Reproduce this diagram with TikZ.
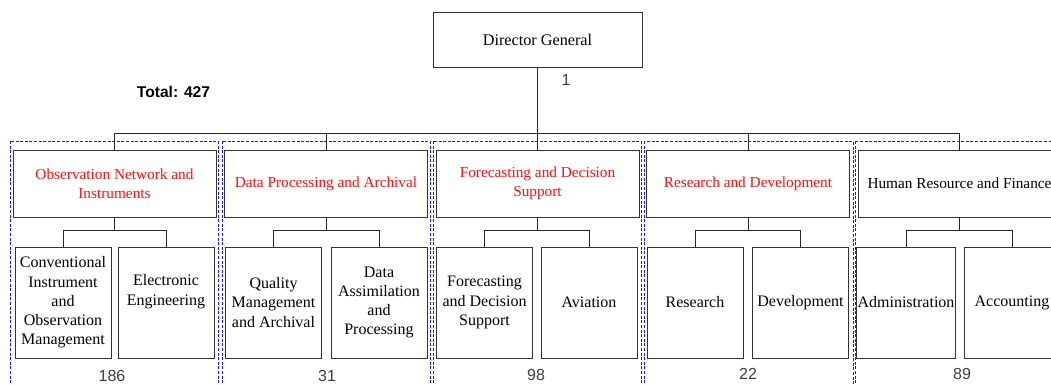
\documentclass[tikz,border=0pt]{standalone}
\usepackage{fontspec}
\usetikzlibrary{calc}
\setmainfont{Liberation Serif}
\newfontfamily\numfont{Liberation Sans}
\definecolor{boxline}{HTML}{333333}
\definecolor{deptred}{HTML}{FF1010}
\definecolor{groupblue}{HTML}{1A1AF0}
\definecolor{countgray}{HTML}{404040}
\tikzset{
  orgbox/.style={draw=boxline, line width=0.9pt, fill=white, align=center, inner sep=1pt,
    font=\fontsize{15.3}{19.3}\selectfont},
  dgbox/.style={orgbox, minimum width=209pt, minimum height=55pt, font=\fontsize{16.2}{19}\selectfont},
  deptbox/.style={orgbox, minimum width=203pt, minimum height=67pt, text=deptred},
  hrbox/.style={orgbox, minimum width=203pt, minimum height=67pt, text=black},
  unitbox/.style={orgbox, minimum width=96pt, minimum height=111pt, font=\fontsize{16}{19.3}\selectfont},
  groupframe/.style={draw=groupblue, line width=0.7pt, dash pattern=on 3pt off 1.6pt},
  link/.style={draw=black!85, line width=0.9pt},
  count/.style={font=\numfont\fontsize{16}{18}\selectfont, text=countgray, inner sep=0pt},
}
\begin{document}
\begin{tikzpicture}[x=1pt,y=-1pt]
\useasboundingbox (0,0) rectangle (1051,385);
\clip (0,0) rectangle (1051,385);
\fill[white] (0,0) rectangle (1051,385);

% division frames
\draw[groupframe] (10,141) rectangle (218,395);
\draw[groupframe] (222,141) rectangle (430,395);
\draw[groupframe] (433,141) rectangle (641,395);
\draw[groupframe] (644,141) rectangle (853,395);
\draw[groupframe] (855,141) rectangle (1065,395);

% top of the hierarchy
\node[dgbox] (dg) at (537.5,39.5) {Director General};
\node[count] (dgcount) at (566,80) {1};
\node[font=\numfont\bfseries\fontsize{15.6}{18}\selectfont, inner sep=0pt] (total) at (173.5,92) {Total: 427};

% divisions
\node[deptbox] (d1) at (114.5,183.5) {Observation Network and\\Instruments};
\node[deptbox] (d2) at (326,183.5) {Data Processing and Archival};
\node[deptbox] (d3) at (537.5,183.5) {Forecasting and Decision\\Support};
\node[deptbox] (d4) at (748,183.5) {Research and Development};
\node[hrbox]   (d5) at (959.5,183.5) {Human Resource and Finance};

% units
\node[unitbox] (u1a) at (63,302.5) {Conventional\\Instrument\\and\\Observation\\Management};
\node[unitbox] (u1b) at (166,302.5) {Electronic\\Engineering\\\strut};
\node[unitbox] (u2a) at (273.5,302.5) {Quality\\Management\\and Archival};
\node[unitbox] (u2b) at (379,302.5) {Data\\Assimilation\\and\\Processing};
\node[unitbox] (u3a) at (484.5,302.5) {Forecasting\\and Decision\\Support};
\node[unitbox] (u3b) at (589,302.5) {Aviation};
\node[unitbox] (u4a) at (695,302.5) {Research};
\node[unitbox] (u4b) at (800.5,302.5) {Development};
\node[unitbox] (u5a) at (906,302.5) {Administration};
\node[unitbox] (u5b) at (1012,302.5) {Accounting};

% staff counts
\node[count] (c1) at (112,376) {186};
\node[count] (c2) at (327,376) {31};
\node[count] (c3) at (536,375) {98};
\node[count] (c4) at (748,374) {22};
\node[count] (c5) at (962,374) {89};

% connectors
\coordinate (bus) at (537.5,133);
\draw[link] (dg.south) -- (bus);
\foreach \d in {d1,d2,d3,d4,d5} {
  \draw[link] (bus) -| (\d.north);
}
\foreach \d/\a/\b in {d1/u1a/u1b, d2/u2a/u2b, d3/u3a/u3b, d4/u4a/u4b, d5/u5a/u5b} {
  \coordinate (j\d) at ($(\d.south)+(0,13)$);
  \draw[link] (\d.south) -- (j\d);
  \draw[link] (j\d) -| (\a.north);
  \draw[link] (j\d) -| (\b.north);
}
\end{tikzpicture}
\end{document}
